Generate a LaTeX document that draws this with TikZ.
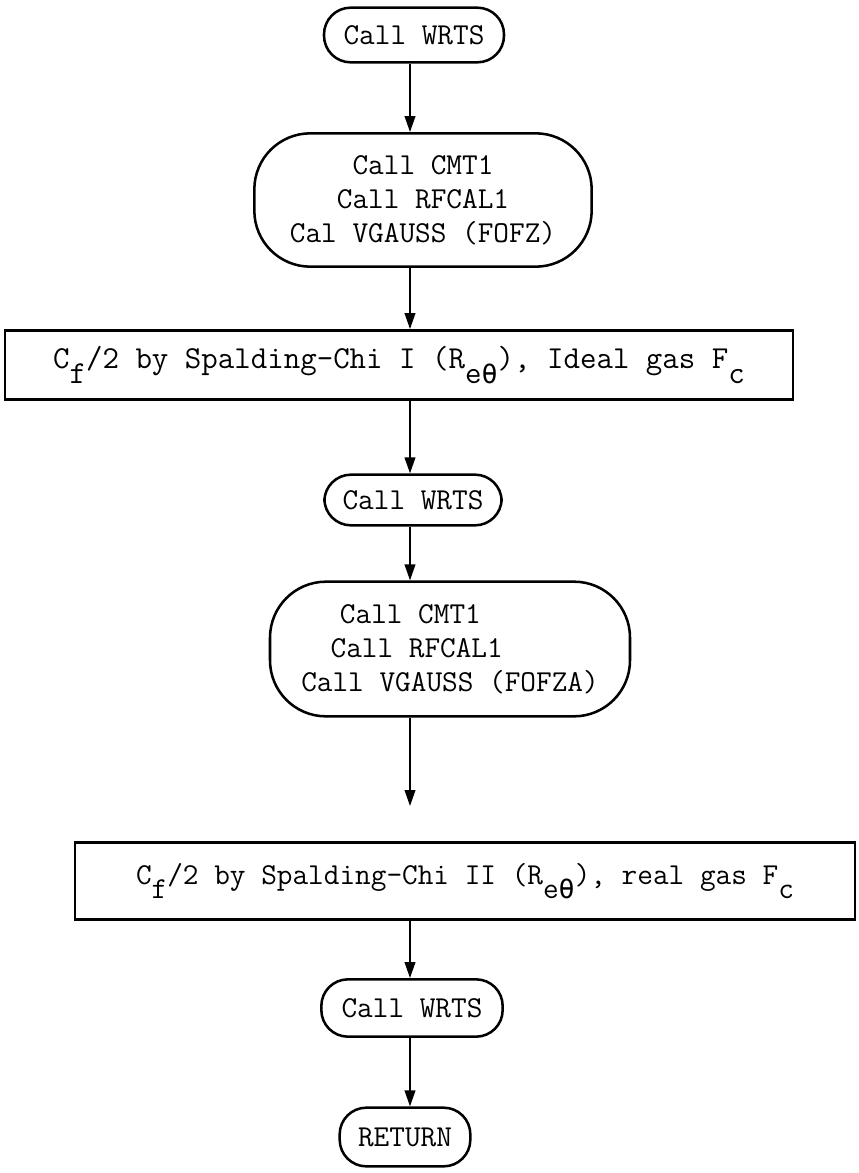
\documentclass[tikz,border=0pt]{standalone}
\usepackage{fontspec}
\newfontfamily\greekmono{DejaVu Sans Mono}
\usetikzlibrary{arrows.meta}

\newcommand{\lowsub}[1]{\raisebox{-1.1ex}{#1}}
\newcommand{\uptheta}{{\greekmono\fontsize{20}{24}\selectfont θ}}

\tikzset{
  term/.style={draw, line width=1.9pt, rounded corners=20pt, align=center, inner sep=0pt},
  callbox/.style={draw, line width=1.9pt, rounded corners=42pt, inner sep=0pt},
  procbox/.style={draw, line width=1.9pt, align=center, inner sep=0pt},
  flow/.style={line width=1.4pt, -{Triangle[length=12pt,width=8pt]}}
}

\begin{document}
\begin{tikzpicture}[x=0.75pt,y=0.75pt,yscale=-1,font=\ttfamily\fontsize{22.8}{25.5}\selectfont]
\useasboundingbox (0,0) rectangle (858,1173);

%vertical line all arrows sit on
\coordinate (axis) at (410,0);

%Flowchart: Terminator
\node [term, minimum width=135pt, minimum height=41pt] (wrts1) at (414,35) {Call WRTS};
%Flowchart: Terminator
\node [callbox, align=center, minimum width=253pt, minimum height=100pt] (calls1) at (423,200)
  {Call CMT1\\Call RFCAL1\\Cal VGAUSS (FOFZ)};
%Flowchart: Process
\node [procbox, minimum width=591pt, minimum height=52pt, font=\ttfamily\fontsize{24}{26}\selectfont] (chi1) at (399,365)
  {C\lowsub{f}/2 by Spalding-Chi I (R\lowsub{e\uptheta}), Ideal gas F\lowsub{c}};
%Flowchart: Terminator
\node [term, minimum width=133pt, minimum height=38pt] (wrts2) at (413,500) {Call WRTS};
%Flowchart: Terminator
\node [callbox, align=left, minimum width=270pt, minimum height=101pt] (calls2) at (450,649)
  {\hspace*{29pt}Call CMT1\\\hspace*{22pt}Call RFCAL1\\Call VGAUSS (FOFZA)};
%Flowchart: Process
\node [procbox, minimum width=585pt, minimum height=58pt] (chi2) at (465,881)
  {C\lowsub{f}/2 by Spalding-Chi II (R\lowsub{e\uptheta}), real gas F\lowsub{c}};
%Flowchart: Terminator
\node [term, minimum width=136pt, minimum height=43pt] (wrts3) at (412,1008) {Call WRTS};
%Flowchart: Terminator
\node [term, minimum width=98pt, minimum height=44pt] (ret) at (405,1137) {RETURN};

%free end of the arrow below the second call box
\coordinate (gap) at (410,806);

%Straight Lines
\draw [flow] (axis |- wrts1.south) -- (axis |- calls1.north);
\draw [flow] (axis |- calls1.south) -- (axis |- chi1.north);
\draw [flow] (axis |- chi1.south) -- (axis |- wrts2.north);
\draw [flow] (axis |- wrts2.south) -- (axis |- calls2.north);
\draw [flow] (axis |- calls2.south) -- (gap);
\draw [flow] (axis |- chi2.south) -- (axis |- wrts3.north);
\draw [flow] (axis |- wrts3.south) -- (axis |- ret.north);

\end{tikzpicture}
\end{document}
